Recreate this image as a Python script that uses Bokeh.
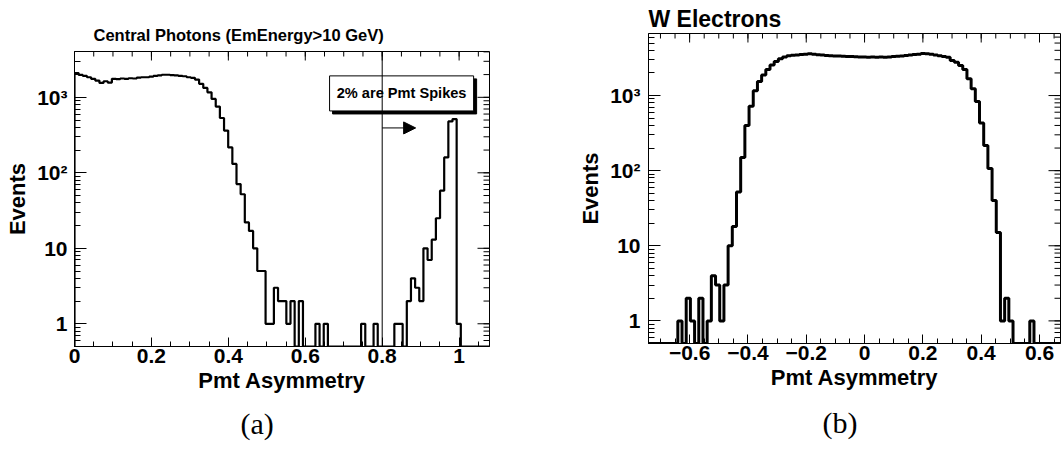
import numpy as np
from bokeh.plotting import figure
from bokeh.models import (Range1d, FixedTicker, Span, BoxAnnotation, Label,
                          Arrow, NormalHead, Title)
from bokeh.layouts import row
from bokeh.embed import file_html
from bokeh.resources import INLINE

FONT = "Liberation Sans"

# ---------------- data ----------------
# (a) Central photons: 100 bins from 0 to 1.08
left_bin_start = 0.0
left_bin_width = 0.0108
left_counts = [
    2100, 1980, 1920, 1845, 1755, 1667, 1550, 1633, 1567, 1755,
    1740, 1775, 1755, 1790, 1775, 1827, 1845, 1845, 1880, 1920,
    1950, 1990, 1990, 1970, 1950, 1920, 1900, 1845, 1810, 1720,
    1507, 1333, 1166, 952, 753, 532, 363, 217, 131, 71,
    52, 22, 17, 10, 5, 5, 1, 1, 3, 2,
    2, 1, 2, 0, 2, 0, 0, 0, 1, 0,
    1, 0, 0, 0, 0, 0, 0, 0, 0, 1,
    0, 0, 1, 0, 0, 0, 0, 1, 1, 0,
    2, 4, 3, 2, 10, 7, 13, 25, 58, 160,
    480, 515, 1, 0, 0, 0, 0, 0, 0, 0,
]

# (b) W electrons
right_bin_start = -0.741
right_bin_width = 0.01437
right_counts = [
    0, 0, 0, 0, 0, 0, 0, 1, 0, 2,
    1, 0, 2, 0, 1, 4, 3, 1, 3, 10,
    18, 52, 150, 400, 720, 1160, 1540, 1880, 2220, 2560,
    2840, 3080, 3250, 3390, 3430, 3470, 3510, 3560, 3590, 3540,
    3500, 3460, 3420, 3400, 3370, 3350, 3340, 3310, 3300, 3280,
    3260, 3250, 3240, 3250, 3230, 3250, 3240, 3270, 3300, 3330,
    3370, 3410, 3460, 3510, 3560, 3630, 3600, 3550, 3470, 3400,
    3320, 3245, 2925, 2780, 2510, 2220, 1670, 1235, 836, 431,
    217, 107, 40, 15, 1, 2, 1, 0, 0, 0,
    0, 1, 0, 0, 0, 0, 0, 0, 0,
]

left_x_ticks = [0, 0.2, 0.4, 0.6, 0.8, 1.0]
right_x_ticks = [-0.6, -0.4, -0.2, 0, 0.2, 0.4, 0.6]
y_ticks = [1, 10, 100, 1000]
y_tick_labels = {1: "1", 10: "10", 100: "10\u00b2", 1000: "10\u00b3"}

left_title = "Central Photons (EmEnergy>10 GeV)"
right_title = "W Electrons"
x_label = "Pmt Asymmetry"
y_label = "Events"

# annotation of panel (a)
cut_value = 0.8
box_text = "2% are Pmt Spikes"
box_left, box_right, box_bottom, box_top = 0.6632, 1.0377, 660, 1923
arrow_end_x, arrow_y = 0.887, 393


def step_xy(start, width, counts, floor):
    xs, ys = [start], [floor]
    for i, c in enumerate(counts):
        v = c if c > 0 else floor
        x0 = start + width * i
        xs += [x0, x0 + width]
        ys += [v, v]
    xs.append(start + width * len(counts))
    ys.append(floor)
    return xs, ys


def minor_lin(lo, hi, step):
    return [round(v, 4) for v in np.arange(lo, hi + 1e-9, step)]


def minor_log(lo_dec, hi_dec):
    out = []
    for d in range(lo_dec, hi_dec + 1):
        for m in range(1, 10):
            out.append(m * 10.0 ** d)
    return out


def style_axis(ax, major, minor):
    ax.major_tick_in = major
    ax.major_tick_out = 0
    ax.minor_tick_in = minor
    ax.minor_tick_out = 0
    ax.axis_line_color = "black"
    ax.major_tick_line_color = "black"
    ax.minor_tick_line_color = "black"
    ax.major_label_text_font = FONT
    ax.major_label_text_font_style = "bold"
    ax.major_label_text_color = "black"
    ax.major_label_text_font_size = "21px"


def make_panel(width, height, xr, yr, borders, counts, start, bw, xticks,
               xminor, title, title_px, title_offset, title_standoff,
               lw, ylab_standoff, ytick_standoff, caption, caption_offset,
               caption_standoff):
    p = figure(width=width, height=height, x_range=Range1d(*xr),
               y_range=Range1d(*yr), y_axis_type="log",
               output_backend="svg", toolbar_location=None,
               min_border_left=borders[0], min_border_right=borders[1],
               min_border_top=borders[2], min_border_bottom=borders[3],
               background_fill_color="white", border_fill_color="white")
    p.frame_align = False
    p.xgrid.visible = False
    p.ygrid.visible = False
    p.outline_line_color = "black"
    p.outline_line_width = 1

    yminor = [v for v in minor_log(-1, 3) if yr[0] <= v <= yr[1]]
    p.xaxis.ticker = FixedTicker(ticks=xticks, minor_ticks=xminor)
    p.yaxis.ticker = FixedTicker(ticks=y_ticks, minor_ticks=yminor)
    style_axis(p.xaxis[0], 9, 5)
    style_axis(p.yaxis[0], 12, 6)
    p.xaxis.major_label_standoff = 2
    p.yaxis.major_label_standoff = ytick_standoff
    p.xaxis.major_label_overrides = {0: "0", 1: "1"}
    p.yaxis.major_label_overrides = y_tick_labels

    p.xaxis.axis_label = x_label
    p.yaxis.axis_label = y_label
    for ax in (p.xaxis[0], p.yaxis[0]):
        ax.axis_label_text_font = FONT
        ax.axis_label_text_font_style = "bold"
        ax.axis_label_text_font_size = "22px"
        ax.axis_label_text_color = "black"
    p.xaxis.axis_label_standoff = 2
    p.yaxis.axis_label_standoff = ylab_standoff

    # mirrored ticks on the top and right edges of the frame
    frame_w = width - borders[0] - borders[1]
    frame_h = height - borders[2] - borders[3]
    px_x = frame_w / (xr[1] - xr[0])
    px_dec = frame_h / np.log10(yr[1] / yr[0])

    def top_ticks(vals, length):
        y0 = [yr[1]] * len(vals)
        y1 = [yr[1] / 10 ** (length / px_dec)] * len(vals)
        p.segment(x0=vals, y0=y0, x1=vals, y1=y1, line_color="black",
                  line_width=1)

    def right_ticks(vals, length):
        x0 = [xr[1]] * len(vals)
        x1 = [xr[1] - length / px_x] * len(vals)
        p.segment(x0=x0, y0=vals, x1=x1, y1=vals, line_color="black",
                  line_width=1)

    top_ticks(xticks, 9)
    top_ticks(xminor, 5)
    right_ticks(y_ticks, 12)
    right_ticks(yminor, 6)

    p.title.text = title
    p.title.align = "left"
    p.title.offset = title_offset
    p.title.standoff = title_standoff
    p.title.text_font = FONT
    p.title.text_font_style = "bold"
    p.title.text_font_size = title_px
    p.title.text_color = "black"

    xs, ys = step_xy(start, bw, counts, yr[0])
    p.line(xs, ys, line_color="black", line_width=lw)

    cap = Title(text=caption, align="left", offset=caption_offset,
                text_font="Liberation Serif", text_font_style="normal",
                text_font_size="30px", text_color="black",
                standoff=caption_standoff)
    p.add_layout(cap, "below")
    return p


p1 = make_panel(540, 455, (0.0, 1.079), (0.5, 4045), (74, 51, 51, 109),
                left_counts, left_bin_start, left_bin_width, left_x_ticks,
                minor_lin(0, 1.05, 0.05), left_title, "16.5px", 19, 15,
                2.2, 4, 7, "(a)", 166, 18)

p2 = make_panel(521, 455, (-0.741, 0.672), (0.5, 6700), (108, 1, 33, 112),
                right_counts, right_bin_start, right_bin_width, right_x_ticks,
                minor_lin(-0.7, 0.65, 0.05), right_title, "23px", 0, 3,
                3.0, 4, 8, "(b)", 174, 22)

# annotations of panel (a)
sx = 3 / 384.5
sy = 10 ** (3 / 75.33)
p1.add_layout(BoxAnnotation(left=box_left + sx, right=box_right + sx,
                            bottom=box_bottom / sy, top=box_top / sy,
                            fill_color="black", fill_alpha=1.0,
                            line_color="black", line_alpha=1.0))
p1.add_layout(BoxAnnotation(left=box_left, right=box_right,
                            bottom=box_bottom, top=box_top,
                            fill_color="white", fill_alpha=1.0,
                            line_color="black", line_width=1, line_alpha=1.0))
p1.add_layout(Label(x=(box_left + box_right) / 2,
                    y=float(np.sqrt(box_bottom * box_top)), text=box_text,
                    text_align="center", text_baseline="middle",
                    text_font=FONT, text_font_style="bold",
                    text_font_size="14.6px", text_color="black"))
p1.add_layout(Span(location=cut_value, dimension="height",
                   line_color="black", line_width=1))
p1.add_layout(Arrow(x_start=cut_value, y_start=arrow_y, x_end=arrow_end_x,
                    y_end=arrow_y, line_color="black", line_width=1,
                    end=NormalHead(size=12, fill_color="black",
                                   line_color="black")))

layout = row(p1, p2)
open("out.html", "w").write(file_html(layout, INLINE))
